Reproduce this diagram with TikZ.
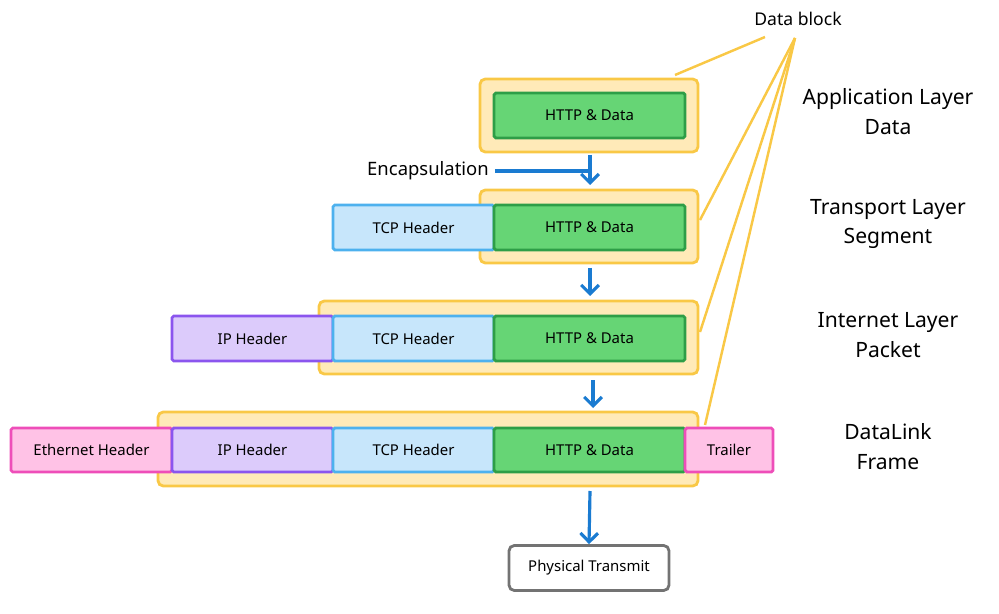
\documentclass[tikz,border=0pt]{standalone}
\usepackage{fontspec}
\setmainfont{Noto Sans}
\usetikzlibrary{arrows.meta}
\definecolor{yf}{HTML}{FFEAB8}\definecolor{yd}{HTML}{F9C846}
\definecolor{gf}{HTML}{66D575}\definecolor{gd}{HTML}{2E9E47}
\definecolor{bf}{HTML}{C7E6FB}\definecolor{bd}{HTML}{4DB1EE}
\definecolor{pf}{HTML}{DCCBFB}\definecolor{pd}{HTML}{8B55EE}
\definecolor{kf}{HTML}{FFC2E6}\definecolor{kd}{HTML}{EE4EB9}
\definecolor{ar}{HTML}{1A7BD1}
\begin{document}
\begin{tikzpicture}[x=0.02cm,y=-0.02cm,
 yb/.style={draw=yd,fill=yf,line width=1.6pt,rounded corners=3pt},
 bx/.style={line width=1.6pt,rounded corners=1pt},
 gr/.style={bx,draw=gd,fill=gf},
 tc/.style={bx,draw=bd,fill=bf},
 ip/.style={bx,draw=pd,fill=pf},
 et/.style={bx,draw=kd,fill=kf},
 sm/.style={font=\fontsize{8.5}{10}\selectfont},
 lb/.style={font=\fontsize{12}{17}\selectfont,align=center},
 arr/.style={draw=ar,line width=1.8pt,-{Straight Barb[length=5pt,width=10pt]}},
 yl/.style={draw=yd,line width=1.4pt}]
\useasboundingbox (0,0) rectangle (999,614);
% yellow blocks
\draw[yb] (480,79) rectangle (698,152) coordinate (a1);
\draw[yb] (480,190) rectangle (698,263);
\draw[yb] (319,301) rectangle (698,374);
\draw[yb] (158,412) rectangle (698,486);
% app
\draw[gr] (494,93) rectangle node[sm] (h1) {HTTP \& Data} (685,138);
% transport
\draw[tc] (333,205) rectangle node[sm] (t2) {TCP Header} (494,250);
\draw[gr] (494,205) rectangle node[sm] (h2) {HTTP \& Data} (685,250);
% internet
\draw[ip] (172,316) rectangle node[sm] (i3) {IP Header} (333,361);
\draw[tc] (333,316) rectangle node[sm] (t3) {TCP Header} (494,361);
\draw[gr] (494,316) rectangle node[sm] (h3) {HTTP \& Data} (685,361);
% datalink
\draw[et] (11,428) rectangle node[sm] (e4) {Ethernet Header} (172,472);
\draw[ip] (172,428) rectangle node[sm] (i4) {IP Header} (333,472);
\draw[tc] (333,428) rectangle node[sm] (t4) {TCP Header} (494,472);
\draw[gr] (494,428) rectangle node[sm] (h4) {HTTP \& Data} (685,472);
\draw[et] (685,428) rectangle node[sm] (r4) {Trailer} (773,472);
% physical
\node[draw=black!55,line width=1.6pt,rounded corners=3pt,minimum width=3.2cm,minimum height=0.9cm,sm] (ph) at (589,568) {Physical Transmit};
% arrows
\coordinate (s1) at (590,155); \coordinate (e1) at (590,185);
\coordinate (s2) at (590,268); \coordinate (e2) at (590,296);
\coordinate (s3) at (593,380); \coordinate (e3) at (593,408);
\coordinate (s4) at (590,491);
\draw[arr] (s1)--(e1); \draw[arr] (s2)--(e2); \draw[arr] (s3)--(e3); \draw[arr] (s4)--(ph.north);
\node[font=\fontsize{10.5}{12}\selectfont] (enc) at (428,171) {Encapsulation};
\draw[draw=ar,line width=1.8pt] (enc.east) -- (590,171);
% data block
\node[font=\fontsize{10}{12}\selectfont] (db) at (798,19) {Data block};
\coordinate (dc) at (795,38);
\draw[yl] (765,37) -- (675,75);
\draw[yl] (dc) -- (700,220);
\draw[yl] (dc) -- (700,332);
\draw[yl] (dc) -- (705,425);
% labels
\node[lb] (l1) at (888,112) {Application Layer\\Data};
\node[lb] (l2) at (888,224) {Transport Layer\\Segment};
\node[lb] (l3) at (888,335) {Internet Layer\\Packet};
\node[lb] (l4) at (888,447) {DataLink\\Frame};
\end{tikzpicture}
\end{document}
